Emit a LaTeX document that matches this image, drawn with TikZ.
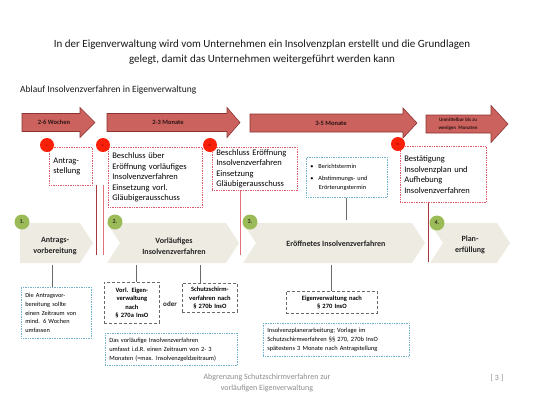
\documentclass[tikz,border=0pt]{standalone}
\usepackage{fontspec}
\setmainfont{Carlito}
\usetikzlibrary{calc}
\definecolor{arrfill}{RGB}{203,98,94}
\definecolor{arrdraw}{RGB}{140,52,50}
\definecolor{redc}{RGB}{250,32,10}
\definecolor{redboxc}{RGB}{222,90,105}
\definecolor{cyanboxc}{RGB}{115,178,205}
\definecolor{grayboxc}{RGB}{105,105,105}
\definecolor{chevc}{RGB}{238,236,226}
\definecolor{greenc}{RGB}{155,187,89}
\definecolor{vlineA}{RGB}{165,55,65}
\definecolor{vlineB}{RGB}{228,112,122}
\definecolor{footc}{RGB}{140,140,140}
\tikzset{
  redbox/.style={draw=redboxc, densely dotted, line width=0.7pt, fill=white, anchor=north west, align=left, inner xsep=4pt, inner ysep=0pt, font=\fontsize{8.5}{10.5}\selectfont},
  cyanbox/.style={draw=cyanboxc, densely dotted, line width=0.7pt, fill=white, anchor=north west, align=left, inner xsep=4pt, inner ysep=0pt, font=\fontsize{6.3}{8.6}\selectfont},
  graybox/.style={draw=grayboxc, dash pattern=on 3pt off 2pt, line width=0.8pt, fill=white, anchor=north west, align=center, inner xsep=2pt, inner ysep=0pt, font=\bfseries\fontsize{6.5}{8.2}\selectfont},
  redcirc/.style={circle, fill=redc, minimum size=14pt, inner sep=0pt, text={rgb,255:red,120;green,0;blue,0}, font=\fontsize{3.5}{4}\selectfont},
  greencirc/.style={circle, fill=greenc, minimum size=15pt, inner sep=0pt, text={rgb,255:red,50;green,50;blue,30}, font=\bfseries\fontsize{6}{6}\selectfont},
  timearr/.style={fill=arrfill, draw=arrdraw, line width=0.6pt},
  arrlabel/.style={font=\bfseries\fontsize{6.5}{7}\selectfont, text={rgb,255:red,45;green,20;blue,20}, align=center, inner sep=0pt},
  chevron/.style={fill=chevc, draw=none},
  chevlabel/.style={font=\bfseries\fontsize{8}{11.5}\selectfont, text={rgb,255:red,35;green,35;blue,35}, align=center, inner sep=0pt},
  grayline/.style={draw=grayboxc, line width=0.8pt},
}
\begin{document}
\begin{tikzpicture}[x=1pt,y=-1pt]
\useasboundingbox[fill=white] (0,0) rectangle (533,400);

% title
\node[font=\fontsize{11}{15}\selectfont, align=center, text={rgb,255:red,25;green,25;blue,25}] (title) at (262,52) {In der Eigenverwaltung wird vom Unternehmen ein Insolvenzplan erstellt und die Grundlagen\\gelegt, damit das Unternehmen weitergeführt werden kann};
\node[font=\fontsize{9.5}{11}\selectfont, anchor=west, inner sep=0pt, text={rgb,255:red,25;green,25;blue,25}] (sub) at (20,90) {Ablauf Insolvenzverfahren in Eigenverwaltung};

% time arrows
\path[timearr] (22,113.5)--(80,113.5)--(80,107.5)--(95,122.5)--(80,137.5)--(80,131.5)--(22,131.5)--cycle;
\node[arrlabel] (t1) at (54,122.5) {2-6 Wochen};
\path[timearr] (107,113.5)--(227,113.5)--(227,107.5)--(240,122.5)--(227,137.5)--(227,131.5)--(107,131.5)--cycle;
\node[arrlabel] (t2) at (168,122.5) {2-3 Monate};
\path[timearr] (250,114)--(403,114)--(403,108)--(417,123)--(403,138)--(403,132)--(250,132)--cycle;
\node[arrlabel] (t3) at (331,123) {3-5 Monate};
\path[timearr] (426,115)--(491,115)--(491,105.5)--(508,124)--(491,142.5)--(491,133)--(426,133)--cycle;
\node[arrlabel, font=\bfseries\fontsize{5}{7.5}\selectfont] (t4) at (458,124) {Unmittelbar bis zu\\wenigen\ \ Monaten};

% chevrons
\path[chevron] (20,223)--(80,223)--(93,243)--(80,263)--(20,263)--cycle;
\path[chevron] (107,223)--(226,223)--(239,243)--(226,263)--(107,263)--(120,243)--cycle;
\path[chevron] (243,223)--(412,223)--(425,243)--(412,263)--(243,263)--(256,243)--cycle;
\path[chevron] (430,223)--(497,223)--(510,243)--(497,263)--(430,263)--(443,243)--cycle;
\node[chevlabel] (p1) at (55,246) {Antrags-\\vorbereitung};
\node[chevlabel] (p2) at (174,246) {Vorläufiges\\Insolvenzverfahren};
\node[chevlabel] (p3) at (336,244) {Eröffnetes Insolvenzverfahren};
\node[chevlabel] (p4) at (470,245) {Plan-\\erfüllung};

% red vertical lines
\coordinate (va1) at (96,185); \coordinate (va2) at (96,255);
\coordinate (vb1) at (103,185); \coordinate (vb2) at (103,255);
\draw[vlineA, line width=0.8pt] (va1) -- (va2);
\draw[vlineB, line width=0.8pt] (vb1) -- (vb2);

% upper boxes
\node[redbox, text width=35pt, minimum height=38pt] (b1) at (49,147) {Antrag-\\stellung};
\node[redbox, text width=86pt, minimum height=60pt] (b2) at (108,147) {Beschluss über\\Eröffnung vorläufiges\\Insolvenzverfahren\\Einsetzung vorl.\\Gläubigerausschuss};
\node[redbox, text width=77pt, minimum height=43pt] (b3) at (212,147) {Beschluss Eröffnung\\Insolvenzverfahren\\Einsetzung\\Gläubigerausschuss};
\node[cyanbox, text width=73pt, minimum height=40pt] (b5) at (306,157) {\textbullet\hspace{5pt}Berichtstermin\\[3.5pt]\textbullet\hspace{5pt}Abstimmungs- und\\\hspace*{8.5pt}Erörterungstermin};
\node[redbox, text width=78pt, minimum height=56pt] (b4) at (400,146) {Bestätigung\\Insolvenzplan und\\Aufhebung\\Insolvenzverfahren};

\coordinate (l3) at (240,255);
\draw[vlineB, line width=0.8pt] (l3 |- b3.south) -- (l3);
\coordinate (l4) at (428,262);
\draw[vlineA, line width=0.8pt] (l4 |- b4.south) -- (l4);
\coordinate (l5) at (346,220);
\draw[grayline] (l5 |- b5.south) -- (l5);

% red circles
\node[redcirc] (c1) at (47,145) {I.};
\node[redcirc] (c2) at (103,145) {II.};
\node[redcirc] (c3) at (210,145) {III.};
\node[redcirc] (c4) at (398,144) {IV.};

% green circles
\node[greencirc] (g1) at (22,222) {1.};
\node[greencirc] (g2) at (115,222) {2.};
\node[greencirc] (g3) at (250,222) {3.};
\node[greencirc] (g4) at (437,223) {4.};

% lower boxes
\node[cyanbox, text width=62pt, minimum height=51pt] (d1) at (21,287) {Die Antragsvor-\\bereitung sollte\\einen Zeitraum von\\mind. 6 Wochen\\umfassen};
\node[graybox, text width=51pt, minimum height=41pt] (d2) at (104,282) {Vorl. Eigen-\\verwaltung\\nach\\§ 270a InsO};
\node[font=\bfseries\fontsize{7}{7}\selectfont, inner sep=0pt, text={rgb,255:red,35;green,35;blue,35}] (oder) at (170,304) {oder};
\node[graybox, text width=51pt, minimum height=29pt] (d3) at (182,283) {Schutzschirm-\\verfahren nach\\§ 270b InsO};
\node[cyanbox, text width=124pt, minimum height=32pt, font=\fontsize{6.4}{9}\selectfont] (d4) at (105,333) {Das vorläufige Insolvenzverfahren\\umfasst i.d.R. einen Zeitraum von 2- 3\\Monaten (=max. Insolvenzgeldzeitraum)};
\node[graybox, text width=87pt, minimum height=22pt] (d5) at (286,291) {Eigenverwaltung nach\\§ 270 InsO};
\node[cyanbox, text width=138pt, minimum height=33pt, font=\fontsize{6.4}{9}\selectfont] (d6) at (263,323) {Insolvenzplanerarbeitung; Vorlage im\\Schutzschirmverfahren §§ 270, 270b InsO\\spätestens 3 Monate nach Antragstellung};

% gray connectors
\coordinate (k1) at (52,265);
\draw[grayline] (k1) -- (k1 |- d1.north);
\coordinate (k2) at (136,265);
\draw[grayline] (k2) -- (k2 |- d2.north);
\coordinate (k3) at (200,265);
\draw[grayline] (k3) -- (k3 |- d3.north);
\coordinate (k4) at (331,265);
\draw[grayline] (k4) -- (k4 |- d5.north);

% footer
\node[font=\fontsize{8}{11.5}\selectfont, text=footc, align=center] (foot) at (267,383) {Abgrenzung Schutzschirmverfahren zur\\vorläufigen Eigenverwaltung};
\node[font=\fontsize{8}{10}\selectfont, text=footc] (page) at (497,378) {[ 3 ]};
\end{tikzpicture}
\end{document}
